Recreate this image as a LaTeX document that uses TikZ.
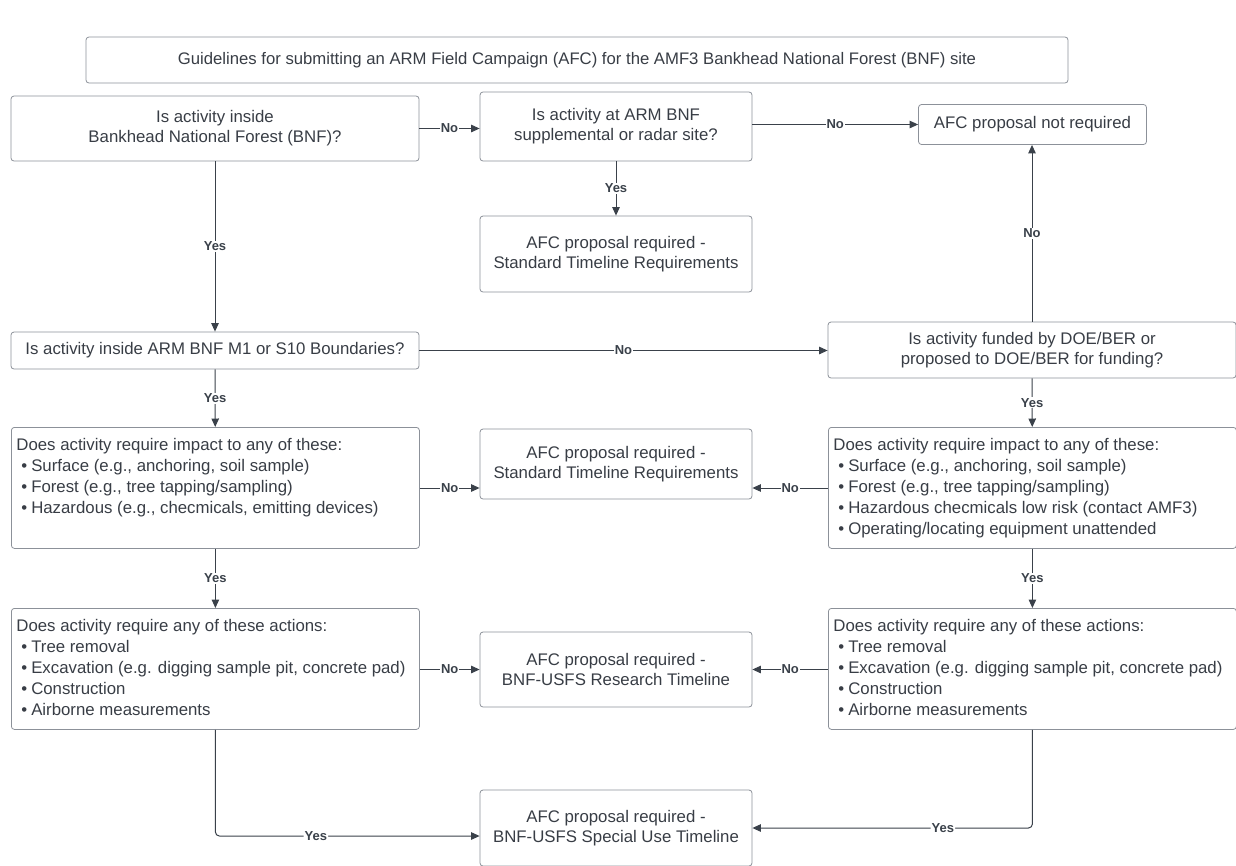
\documentclass[tikz,border=0pt]{standalone}
\usepackage{fontspec}
\setmainfont{Liberation Sans}
\usetikzlibrary{arrows.meta,positioning}

\definecolor{linegray}{HTML}{3A414A}
\definecolor{boxgray}{HTML}{8C9199}
\definecolor{txtgray}{HTML}{383D45}

% list text in the wide boxes, first line pushed down a little
\newcommand{\pointlist}[2]{\parbox[c][#1pt][t]{398pt}{\fontsize{16.8}{21}\selectfont\vspace*{8pt}\strut #2}}
\newcommand{\pt}{\\\hspace*{5pt}\textbullet\hspace{4pt}}

\begin{document}
\begin{tikzpicture}[x=1pt,y=-1pt,>={Triangle[length=8.5pt,width=7.5pt]},font=\fontsize{16.8}{20}\selectfont]
  \tikzstyle{box}=[draw=boxgray,line width=0.8pt,rounded corners=3pt,text=txtgray,align=center,inner sep=0pt]
  \tikzstyle{wide}=[box,minimum width=408]
  \tikzstyle{result}=[box,minimum width=272]
  \tikzstyle{listbox}=[box,anchor=north west,inner xsep=5pt,inner ysep=0pt]
  \tikzstyle{flow}=[->,draw=linegray,line width=1pt]
  \tikzstyle{ans}=[fill=white,text=linegray,font=\fontsize{13}{13}\selectfont\bfseries,inner sep=1pt]
  \useasboundingbox (0,0) rectangle (1236,865);

  \node[box,minimum width=982,minimum height=46,font=\fontsize{16.7}{20}\selectfont] (title) at (577,60)
    {Guidelines for submitting an ARM Field Campaign (AFC) for the AMF3 Bankhead National Forest (BNF) site};

  \node[wide,minimum height=65] (inBNF) at (215,128.5) {Is activity inside\\Bankhead National Forest (BNF)?};
  \node[result,minimum height=69] (suppl) at (616,126.5) {Is activity at ARM BNF\\supplemental or radar site?};
  \node[box,minimum width=228,minimum height=40] (notreq) at (1032.5,124.5) {AFC proposal not required};
  \node[result,minimum height=76] (std1) at (616,254) {AFC proposal required -\\Standard Timeline Requirements};

  \node[wide,minimum height=37] (bound) at (215,350.5) {Is activity inside ARM BNF M1 or S10 Boundaries?};
  \node[wide,minimum height=56] (doe) at (1032,350) {Is activity funded by DOE/BER or\\proposed to DOE/BER for funding?};

  \node[listbox] (impL) at (11,427) {\pointlist{121}{Does activity require impact to any of these:
    \pt Surface (e.g., anchoring, soil sample)
    \pt Forest (e.g., tree tapping/sampling)
    \pt Hazardous (e.g., checmicals, emitting devices)}};
  \node[result,minimum height=70] (std2) at (616,464) {AFC proposal required -\\Standard Timeline Requirements};
  \node[listbox] (impR) at (828,427) {\pointlist{121}{Does activity require impact to any of these:
    \pt Surface (e.g., anchoring, soil sample)
    \pt Forest (e.g., tree tapping/sampling)
    \pt Hazardous checmicals low risk (contact AMF3)
    \pt Operating/locating equipment unattended}};

  \node[listbox] (actL) at (11,608) {\pointlist{121}{Does activity require any of these actions:
    \pt Tree removal
    \pt Excavation (e.g. digging sample pit, concrete pad)
    \pt Construction
    \pt Airborne measurements}};
  \node[result,minimum height=75] (usfsR) at (616,669.5) {AFC proposal required -\\BNF-USFS Research Timeline};
  \node[listbox] (actR) at (828,608) {\pointlist{121}{Does activity require any of these actions:
    \pt Tree removal
    \pt Excavation (e.g. digging sample pit, concrete pad)
    \pt Construction
    \pt Airborne measurements}};

  \node[result,minimum height=76] (usfsS) at (616,828) {AFC proposal required -\\BNF-USFS Special Use Timeline};

  % connectors
  \draw[flow] (inBNF.east) -- node[ans]{No} (inBNF.east -| suppl.west);
  \draw[flow] (suppl.east |- notreq.west) -- node[ans]{No} (notreq.west);
  \draw[flow] (suppl) -- node[ans]{Yes} (std1);
  \draw[flow] (inBNF) -- node[ans]{Yes} (bound);
  \draw[flow] (bound.east) -- node[ans]{No} (bound.east -| doe.west);
  \draw[flow] (doe.north) -- node[ans]{No} (doe.north |- notreq.south);
  \draw[flow] (bound) -- node[ans]{Yes} (impL);
  \draw[flow] (doe) -- node[ans]{Yes} (impR);
  \draw[flow] ([yshift=-24pt]std2.west -| impL.east) -- node[ans]{No} ([yshift=-24pt]std2.west);
  \draw[flow] ([yshift=-24pt]std2.east -| impR.west) -- node[ans]{No} ([yshift=-24pt]std2.east);
  \draw[flow] (impL) -- node[ans]{Yes} (actL);
  \draw[flow] (impR) -- node[ans]{Yes} (actR);
  \draw[flow] (actL.east |- usfsR.west) -- node[ans]{No} (usfsR.west);
  \draw[flow] (actR.west |- usfsR.east) -- node[ans]{No} (usfsR.east);
  \draw[flow,rounded corners=4pt] (actL.south) |- node[ans,pos=0.69]{Yes} ([yshift=-8pt]usfsS.west);
  \draw[flow,rounded corners=4pt] (actR.south) |- node[ans,pos=0.66]{Yes} (usfsS.east);
\end{tikzpicture}
\end{document}
